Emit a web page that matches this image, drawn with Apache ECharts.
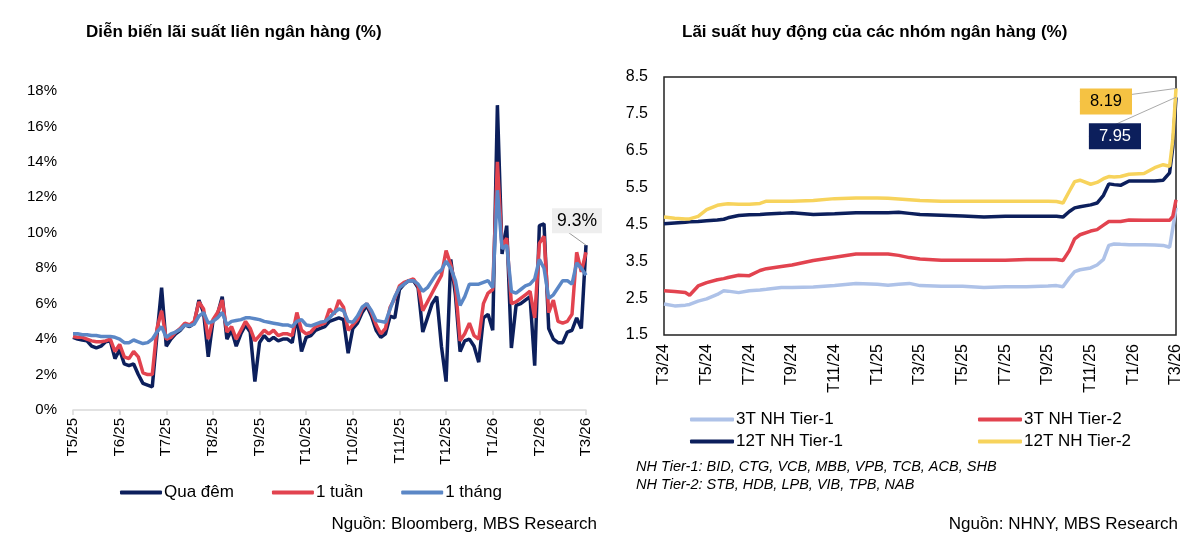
<!DOCTYPE html>
<html>
<head>
<meta charset="utf-8">
<script src="https://cdn.jsdelivr.net/npm/echarts@6/dist/echarts.min.js"></script>
<style>
html,body{margin:0;padding:0;background:#fff;}
#c{width:1200px;height:550px;}
</style>
</head>
<body>
<div id="c"></div>
<script>
// ---------- Left chart: interbank rates ----------
const leftTicks = ['T5/25','T6/25','T7/25','T8/25','T9/25','T10/25','T10/25','T11/25','T12/25','T1/26','T2/26','T3/26'];
const overnight = [
 4.1,4.0,3.95,3.9,3.6,3.5,3.6,3.85,3.9,2.9,3.4,
 2.6,2.5,2.6,2.0,1.5,1.4,1.3,4.2,6.9,3.6,
 4.0,4.3,4.5,4.8,4.7,4.9,6.2,5.5,3.0,5.0,
 5.4,6.4,4.0,4.5,3.6,4.3,4.8,4.4,1.6,3.8,
 4.2,3.9,4.1,3.9,4.0,4.0,3.8,5.3,3.3,4.1,
 4.2,4.5,4.6,4.7,5.0,5.1,5.2,5.1,3.2,4.6,
 4.9,5.5,5.9,5.3,4.5,4.1,4.3,5.3,5.2,6.8,
 7.1,7.3,7.3,6.9,4.4,5.2,6.0,6.4,3.6,1.6,
 8.5,6.5,3.3,3.9,4.0,3.6,2.7,5.2,5.4,4.5,
 17.2,8.8,10.4,3.5,5.9,6.0,6.2,6.4,2.5,10.4,
 10.5,4.6,4.0,3.8,3.8,4.4,4.5,5.2,4.6,9.3
];
const week = [
 4.15,4.1,4.1,4.0,3.9,3.85,3.85,3.9,4.0,3.3,3.7,
 3.0,2.9,3.3,3.0,2.1,2.0,2.0,4.6,5.6,4.0,
 4.1,4.4,4.6,4.9,4.8,5.0,6.1,5.7,4.0,5.1,
 5.5,6.2,4.4,4.7,4.0,4.5,5.0,4.6,3.9,4.2,
 4.5,4.3,4.5,4.2,4.3,4.3,4.2,5.5,4.5,4.3,
 4.4,4.7,4.8,4.9,5.7,5.4,6.2,5.8,4.5,4.8,
 5.1,5.7,6.0,5.5,4.8,4.3,4.6,5.8,6.3,7.0,
 7.2,7.3,7.4,7.0,5.6,6.1,6.6,7.1,7.6,9.0,
 8.2,7.0,3.9,4.3,4.9,4.2,4.0,6.0,6.6,6.8,
 14.0,9.2,9.7,6.0,6.1,6.3,6.5,6.7,5.2,9.4,
 9.8,5.5,6.2,5.0,4.9,5.0,5.4,8.9,7.8,8.9
];
const month = [
 4.3,4.3,4.25,4.25,4.2,4.2,4.15,4.15,4.15,4.1,4.0,
 3.8,3.8,3.95,3.85,3.75,3.8,4.0,4.4,4.7,4.1,
 4.3,4.4,4.55,4.8,4.75,4.85,5.3,5.5,4.9,5.0,
 5.2,5.5,4.8,5.0,5.05,5.1,5.2,5.2,5.15,5.1,
 5.0,4.95,4.9,4.85,4.8,4.8,4.7,5.0,5.1,4.8,
 4.75,4.85,4.95,5.0,5.2,5.5,5.7,5.6,5.0,4.95,
 5.3,5.8,6.0,5.6,5.05,5.0,4.95,5.7,6.4,6.9,
 7.1,7.3,7.3,7.1,6.7,6.9,7.3,7.7,7.9,8.4,
 8.0,7.3,5.9,6.4,7.1,7.1,7.1,7.2,7.3,6.9,
 12.4,9.1,9.3,6.7,6.6,6.8,7.0,7.1,7.4,8.5,
 8.0,6.3,6.5,6.9,7.3,7.3,7.1,8.3,8.0,7.6
];
const leftCats = overnight.map((_, i) => 'd' + i);

// ---------- Right chart: deposit rates (x in months from T3/24) ----------
const rightTicks = ['T3/24','T5/24','T7/24','T9/24','T11/24','T1/25','T3/25','T5/25','T7/25','T9/25','T11/25','T1/26','T3/26'];
const months = [0,0.5,1,1.2,1.6,2,2.5,2.8,3,3.5,4,4.5,4.8,5.5,6,7,8,9,10,10.5,11,11.5,12,13,14,15,16,17,18,18.4,18.7,19,19.25,19.5,20,20.3,20.6,20.85,21.1,21.4,21.8,22.5,23,23.4,23.7,23.85,24];
const t1_3m = [2.34,2.29,2.31,2.33,2.42,2.48,2.60,2.70,2.69,2.65,2.70,2.72,2.74,2.79,2.79,2.80,2.84,2.90,2.88,2.85,2.88,2.90,2.84,2.82,2.82,2.79,2.81,2.81,2.83,2.84,2.81,3.05,3.22,3.27,3.32,3.40,3.55,3.93,3.97,3.96,3.95,3.95,3.94,3.93,3.88,4.40,4.95];
const t2_3m = [2.70,2.68,2.65,2.58,2.83,2.92,3.00,3.03,3.06,3.12,3.11,3.25,3.30,3.36,3.40,3.52,3.61,3.70,3.70,3.70,3.66,3.60,3.56,3.53,3.53,3.53,3.53,3.55,3.55,3.55,3.52,3.79,4.11,4.22,4.32,4.36,4.48,4.58,4.58,4.58,4.62,4.61,4.61,4.61,4.61,4.72,5.17];
const t1_12m = [4.52,4.54,4.56,4.57,4.58,4.60,4.62,4.64,4.68,4.74,4.76,4.77,4.78,4.80,4.82,4.77,4.79,4.82,4.82,4.82,4.83,4.80,4.77,4.75,4.73,4.70,4.72,4.72,4.72,4.72,4.70,4.85,4.95,4.98,5.03,5.08,5.29,5.60,5.58,5.56,5.68,5.68,5.68,5.70,5.90,6.60,7.95];
const t2_12m = [4.70,4.67,4.65,4.65,4.72,4.90,5.02,5.05,5.06,5.05,5.05,5.07,5.13,5.13,5.13,5.15,5.20,5.22,5.22,5.21,5.19,5.17,5.15,5.13,5.13,5.13,5.13,5.13,5.13,5.12,5.08,5.40,5.66,5.70,5.59,5.64,5.74,5.80,5.79,5.80,5.86,5.88,6.04,6.12,6.08,6.80,8.19];

const FONT = 'Liberation Sans, Arial, sans-serif';
const C_NAVY = '#0c1f5c', C_RED = '#e2434f', C_BLUE = '#5b87c6', C_LBLUE = '#aec2e8', C_YEL = '#f7d35c';

function pairs(xs, ys, lastLabel) {
  return ys.map((y, i) => {
    if (i === ys.length - 1 && lastLabel) return { value: [xs[i], y], label: lastLabel };
    return [xs[i], y];
  });
}

const chart = echarts.init(document.getElementById('c'), null, { renderer: 'canvas' });

const lineBase = { type: 'line', symbol: 'none', showSymbol: false, emphasis: { disabled: true } };
const labeledBase = { type: 'line', symbol: 'circle', symbolSize: 0, showSymbol: true, showAllSymbol: true,
  emphasis: { disabled: true }, label: { show: false } };

const option = {
  animation: false,
  backgroundColor: '#fff',
  textStyle: { fontFamily: FONT, color: '#000' },
  title: [
    { text: 'Diễn biến lãi suất liên ngân hàng (%)', left: 81, top: 19,
      textStyle: { fontFamily: FONT, fontSize: 17, fontWeight: 'bold', color: '#000' } },
    { text: 'Lãi suất huy động của các nhóm ngân hàng (%)', left: 677, top: 19,
      textStyle: { fontFamily: FONT, fontSize: 17, fontWeight: 'bold', color: '#000' } },
    { text: 'Nguồn: Bloomberg, MBS Research', right: 598, top: 511,
      textStyle: { fontFamily: FONT, fontSize: 17, fontWeight: 'normal', color: '#000' } },
    { text: 'Nguồn: NHNY, MBS Research', right: 17, top: 511,
      textStyle: { fontFamily: FONT, fontSize: 17, fontWeight: 'normal', color: '#000' } },
    { text: 'NH Tier-1: BID, CTG, VCB, MBB, VPB, TCB, ACB, SHB\nNH Tier-2: STB, HDB, LPB, VIB, TPB, NAB', left: 631, top: 453,
      textStyle: { fontFamily: FONT, fontSize: 14.5, fontStyle: 'italic', fontWeight: 'normal', color: '#000', lineHeight: 18 } }
  ],
  legend: [
    { data: ['Qua đêm', '1 tuần', '1 tháng'], left: 120, top: 484, padding: 0,
      itemWidth: 42, itemHeight: 4, itemGap: 38, icon: 'roundRect',
      textStyle: { fontFamily: FONT, fontSize: 17, color: '#000', padding: [0, 0, 0, -3] } },
    { data: ['3T NH Tier-1', '12T NH Tier-1'], orient: 'vertical', left: 690, top: 411, padding: 0,
      itemWidth: 44, itemHeight: 4, itemGap: 5, icon: 'roundRect',
      textStyle: { fontFamily: FONT, fontSize: 17, color: '#000', padding: [0, 0, 0, -3] } },
    { data: ['3T NH Tier-2', '12T NH Tier-2'], orient: 'vertical', left: 978, top: 411, padding: 0,
      itemWidth: 44, itemHeight: 4, itemGap: 5, icon: 'roundRect',
      textStyle: { fontFamily: FONT, fontSize: 17, color: '#000', padding: [0, 0, 0, -3] } }
  ],
  grid: [
    { left: 73, right: 614, top: 91, bottom: 140 },
    { left: 664, right: 24, top: 77, bottom: 215, show: true, borderColor: '#222', borderWidth: 1.5, backgroundColor: 'transparent' }
  ],
  xAxis: [
    { gridIndex: 0, type: 'category', data: leftCats, boundaryGap: false,
      axisLine: { lineStyle: { color: '#d9d9d9', width: 1.5 } },
      axisTick: { show: true, interval: 9, length: 5, lineStyle: { color: '#d9d9d9', width: 1.5 } },
      axisLabel: { interval: 9, rotate: 90, margin: 8, fontSize: 15, color: '#000', fontFamily: FONT,
        formatter: (v, i) => leftTicks[Math.round(i / 10)] },
      splitLine: { show: false } },
    { gridIndex: 1, type: 'value', min: 0, max: 24, interval: 2,
      axisLine: { show: false }, axisTick: { show: false }, splitLine: { show: false },
      axisLabel: { rotate: 90, margin: 9, fontSize: 16, color: '#000', fontFamily: FONT,
        formatter: v => rightTicks[Math.round(v / 2)] } }
  ],
  yAxis: [
    { gridIndex: 0, type: 'value', min: 0, max: 18, interval: 2,
      axisLine: { show: false }, axisTick: { show: false }, splitLine: { show: false },
      axisLabel: { formatter: '{value}%', fontSize: 15, color: '#000', margin: 16, fontFamily: FONT } },
    { gridIndex: 1, type: 'value', min: 1.5, max: 8.5, interval: 1,
      axisLine: { show: false }, axisTick: { show: false }, splitLine: { show: false },
      axisLabel: { fontSize: 16, color: '#000', margin: 16, fontFamily: FONT, formatter: v => v.toFixed(1) } }
  ],
  series: [
    Object.assign({}, labeledBase, { name: 'Qua đêm', xAxisIndex: 0, yAxisIndex: 0,
      color: C_NAVY, itemStyle: { color: C_NAVY }, lineStyle: { width: 3.5, color: C_NAVY },
      data: overnight.map((v, i) => i === overnight.length - 1 ? {
        value: v,
        label: { show: true, position: 'top', distance: 4, formatter: p => p.value.toFixed(1) + '%',
          fontSize: 17.5, color: '#000', fontFamily: FONT, backgroundColor: '#eeeeee', padding: [4, 5, 3, 5] }
      } : v),
      labelLayout: { dx: -9, dy: -8 },
      labelLine: { show: true, lineStyle: { color: '#999', width: 1 } } }),
    Object.assign({}, lineBase, { name: '1 tuần', xAxisIndex: 0, yAxisIndex: 0,
      color: C_RED, lineStyle: { width: 3.5, color: C_RED }, data: week }),
    Object.assign({}, lineBase, { name: '1 tháng', xAxisIndex: 0, yAxisIndex: 0,
      color: C_BLUE, lineStyle: { width: 3.5, color: C_BLUE }, data: month }),

    Object.assign({}, lineBase, { name: '3T NH Tier-1', xAxisIndex: 1, yAxisIndex: 1,
      color: C_LBLUE, lineStyle: { width: 3.5, color: C_LBLUE }, data: pairs(months, t1_3m) }),
    Object.assign({}, lineBase, { name: '3T NH Tier-2', xAxisIndex: 1, yAxisIndex: 1,
      color: C_RED, lineStyle: { width: 3.5, color: C_RED }, data: pairs(months, t2_3m) }),
    Object.assign({}, labeledBase, { name: '12T NH Tier-1', xAxisIndex: 1, yAxisIndex: 1,
      color: C_NAVY, itemStyle: { color: C_NAVY }, lineStyle: { width: 3.5, color: C_NAVY },
      data: pairs(months, t1_12m, { show: true, position: 'left', distance: 5, formatter: p => p.value[1].toFixed(2),
        fontSize: 16.5, color: '#fff', fontFamily: FONT, backgroundColor: C_NAVY, padding: [5, 10, 4, 10] }),
      labelLayout: { dx: -30, dy: 39 },
      labelLine: { show: true, lineStyle: { color: '#aaa', width: 1 } } }),
    Object.assign({}, labeledBase, { name: '12T NH Tier-2', xAxisIndex: 1, yAxisIndex: 1,
      color: C_YEL, itemStyle: { color: C_YEL }, lineStyle: { width: 3.5, color: C_YEL },
      data: pairs(months, t2_12m, { show: true, position: 'left', distance: 5, formatter: p => p.value[1].toFixed(2),
        fontSize: 16.5, color: '#000', fontFamily: FONT, backgroundColor: '#f5c243', padding: [5, 10, 4, 10] }),
      labelLayout: { dx: -39, dy: 13 },
      labelLine: { show: true, lineStyle: { color: '#aaa', width: 1 } } })
  ]
};
chart.setOption(option);
</script>
</body>
</html>
